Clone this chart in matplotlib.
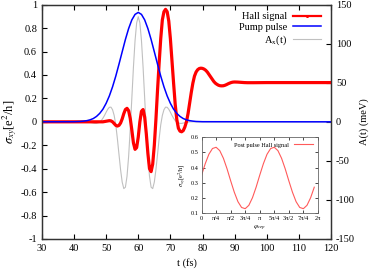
import matplotlib
matplotlib.use("Agg")
import matplotlib.pyplot as plt
from matplotlib.lines import Line2D
import numpy as np

plt.rcParams['font.family'] = ['Liberation Serif', 'DejaVu Serif']
plt.rcParams['mathtext.fontset'] = 'stix'
plt.rcParams['axes.unicode_minus'] = False

# Hall signal (sigma_xy, e^2/h) vs t (fs)
t_hall = [30, 49, 50, 51, 51.5, 52, 52.5, 53, 53.5, 54, 54.5, 55, 55.5, 56, 56.5,
          57, 57.5, 58, 58.5, 59, 59.5, 60, 60.5, 61, 61.5, 62, 62.5, 63, 63.5,
          64, 64.5, 65, 65.5, 66, 66.5, 67, 67.5, 68, 68.5, 69, 69.5, 70, 70.5,
          71, 71.5, 72, 72.5, 73, 73.5, 74, 74.5, 75, 75.5, 76, 76.5, 77, 77.5,
          78, 78.5, 79, 79.5, 80, 80.5, 81, 81.5, 82, 82.5, 83, 83.5, 84, 84.5,
          85, 85.5, 86, 86.5, 87, 87.5, 88, 88.5, 89, 89.5, 90, 91, 92, 93, 94,
          96, 100, 120]
hall = [0, 0, 0.005, 0.01, 0.008, 0.0, -0.015, -0.03, -0.036, -0.03, -0.01, 0.025,
        0.07, 0.105, 0.115, 0.095, 0.03, -0.07, -0.18, -0.235, -0.22, -0.13, 0.0,
        0.09, 0.105, 0.04, -0.1, -0.27, -0.4, -0.425, -0.36, -0.2, 0.02, 0.27,
        0.5, 0.71, 0.87, 0.94, 0.96, 0.94, 0.86, 0.71, 0.52, 0.33, 0.15, 0.02,
        -0.055, -0.08, -0.085, -0.075, -0.045, 0.0, 0.07, 0.16, 0.25, 0.33, 0.39,
        0.425, 0.445, 0.455, 0.458, 0.456, 0.45, 0.44, 0.425, 0.405, 0.385, 0.365,
        0.345, 0.33, 0.32, 0.312, 0.308, 0.307, 0.308, 0.312, 0.318, 0.325, 0.331,
        0.336, 0.339, 0.340, 0.339, 0.337, 0.335, 0.334, 0.334, 0.335, 0.335]

# Pump pulse envelope
t_pump = [30] + list(range(40, 81)) + [120]
pump = [0, 0.001, 0.002, 0.003, 0.006, 0.010, 0.017, 0.028, 0.046, 0.072, 0.108,
        0.158, 0.221, 0.299, 0.390, 0.492, 0.598, 0.703, 0.796, 0.870, 0.917,
        0.934, 0.917, 0.870, 0.796, 0.703, 0.598, 0.492, 0.390, 0.299, 0.221,
        0.158, 0.108, 0.072, 0.046, 0.028, 0.017, 0.010, 0.006, 0.003, 0.002,
        0.001, 0]

# Vector potential A_x(t) in meV
t_A = [30] + list(np.arange(44, 76.5, 0.5)) + [120]
A_x = [0,
       0, -0.3, -0.7, -1.1, -1.6, -2.0, -2.0, -1.3, -0.4, 1.6, 4.6, 8.2, 12.3,
       16.1, 18.6, 18.8, 15.5, 8.2, -3.8, -21.6, -41.7, -61.4, -77.2, -85.5,
       -83.7, -69.8, -44.4, -9.7, 30.3, 70.1, 103.9, 126.7, 134.6,
       126.7, 103.9, 70.1, 30.3, -9.7, -44.4, -69.8, -83.7, -85.5, -77.2, -61.4,
       -41.7, -21.6, -3.8, 8.2, 15.5, 18.8, 18.6, 16.1, 12.3, 8.2, 4.6, 1.6,
       -0.4, -1.3, -2.0, -2.0, -1.6, -1.1, -0.7, -0.3, 0,
       0]

# inset: post pulse Hall signal vs CEP phase (steps of pi/16)
phi = np.arange(32) * np.pi / 16
post = [0.351, 0.426, 0.488, 0.526, 0.534, 0.512, 0.462, 0.393, 0.314, 0.239,
        0.177, 0.139, 0.131, 0.153, 0.203, 0.272, 0.351, 0.426, 0.488, 0.526,
        0.534, 0.512, 0.462, 0.393, 0.314, 0.239, 0.177, 0.139, 0.131, 0.153,
        0.203, 0.272]
phi_ticks = ["0", "π/4", "π/2", "3π/4", "π", "5π/4", "3π/2", "7π/4", "2π"]

fig = plt.figure(figsize=(3.74, 2.75), dpi=100)
ax = fig.add_axes([0.112, 0.131, 0.773, 0.852])
ax2 = ax.twinx()
ax.set_zorder(1)
ax.patch.set_visible(False)

l_A, = ax2.plot(t_A, A_x, color='#c0c0c0', lw=0.8)
ax.plot(t_hall, hall, color='red', lw=2.3, solid_capstyle='round',
        solid_joinstyle='round')
l_p, = ax.plot(t_pump, pump, color='blue', lw=1.1)
l_h = Line2D([], [], color='red', lw=1.6, marker='o', ms=2.2, markeredgewidth=0)

ax.set_xlim(30, 120)
ax.set_ylim(-1, 1)
ax2.set_ylim(-150, 150)
ax.set_xticks(range(30, 121, 10))
yt = np.round(np.arange(-1, 1.01, 0.2), 1)
ax.set_yticks(yt)
ax.set_yticklabels(["%g" % (v if abs(v) > 1e-9 else 0) for v in yt])
ax2.set_yticks(range(-150, 151, 50))
ax.tick_params(direction='in', length=3.5, labelsize=7.5, top=True, right=False)
ax2.tick_params(direction='in', length=3.5, labelsize=7.5)
for a in (ax, ax2):
    for s in a.spines.values():
        s.set_color('#333333')
        s.set_linewidth(0.9)

ax.set_xlabel("t (fs)", fontsize=7.5, labelpad=4)
ax.set_ylabel(r"$\sigma_{xy}$[e$^2$/h]", fontsize=9)
ax.yaxis.set_label_coords(-0.08, 0.5)
ax2.set_ylabel("A(t) (meV)", fontsize=7.5, labelpad=3)

ax.legend([l_h, l_p, l_A], ["Hall signal", "Pump pulse", r"A$_\mathrm{x}$(t)"],
          loc='upper right', frameon=False, markerfirst=False, fontsize=7.5,
          handlelength=2.7, labelspacing=0.15, borderaxespad=0.3,
          handletextpad=0.5, bbox_to_anchor=(0.99, 1.0))

# inset
axi = fig.add_axes([0.539, 0.224, 0.311, 0.277])
axi.set_zorder(3)
axi.plot(phi, post, color='#ff5a5a', lw=0.8, label="Post pulse Hall signal")
axi.set_xlim(0, 2 * np.pi)
axi.set_ylim(0.1, 0.6)
axi.set_xticks(np.arange(9) * np.pi / 4)
axi.set_xticklabels(phi_ticks)
axi.set_yticks(np.arange(0.1, 0.61, 0.1))
axi.set_yticklabels(["%.1f" % v for v in np.arange(0.1, 0.61, 0.1)])
axi.tick_params(direction='in', length=2, labelsize=4.5, pad=2,
                top=True, right=True, width=0.5)
for s in axi.spines.values():
    s.set_color('#666666')
    s.set_linewidth(0.6)
axi.set_xlabel(r"$\varphi_{cep}$", fontsize=5, labelpad=2)
axi.set_ylabel(r"$\sigma_{xy}$[e$^2$/h]", fontsize=4.5, labelpad=2)
axi.legend(loc='upper right', frameon=False, markerfirst=False, fontsize=4.5,
           handlelength=3, borderaxespad=0.4)

fig.savefig("out.png", dpi=100)
